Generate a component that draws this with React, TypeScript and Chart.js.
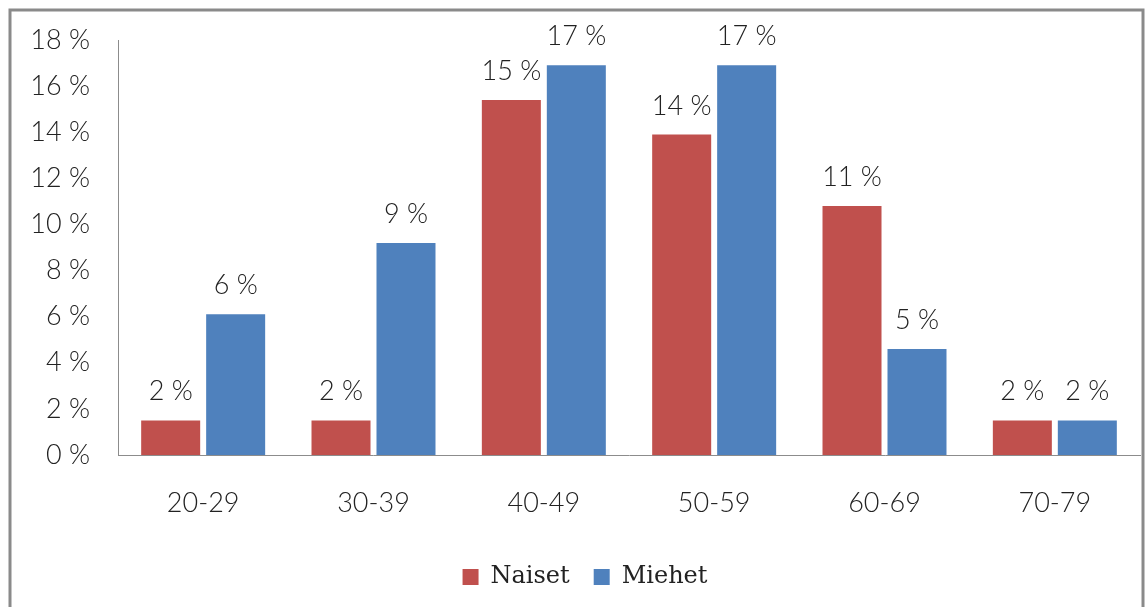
import React, { useEffect, useRef } from "react";
import { Chart, registerables } from "chart.js";

Chart.register(...registerables);

const categories = ["20-29", "30-39", "40-49", "50-59", "60-69", "70-79"];
const naiset = [1.5, 1.5, 15.4, 13.9, 10.8, 1.5];
const miehet = [6.1, 9.2, 16.9, 16.9, 4.6, 1.5];
const yTicks = [0, 2, 4, 6, 8, 10, 12, 14, 16, 18];

const RED = "#C0504D";
const BLUE = "#4F81BD";
const TEXT = "#222222";
const SANS = "Lato, 'Open Sans', sans-serif";
const SERIF = "'DejaVu Serif', 'Liberation Serif', serif";

const framePlugin = {
  id: "frame",
  afterDraw(chart: any) {
    const ctx = chart.ctx;
    ctx.save();
    ctx.strokeStyle = "#8a8a8a";
    ctx.lineWidth = 3;
    ctx.strokeRect(10, 10, 1133, 620);
    ctx.restore();
  },
};

const labelPlugin = {
  id: "barLabels",
  afterDatasetsDraw(chart: any) {
    const ctx = chart.ctx;
    ctx.save();
    ctx.font = `300 27px ${SANS}`;
    ctx.fillStyle = TEXT;
    ctx.textAlign = "center";
    ctx.textBaseline = "alphabetic";
    chart.data.datasets.forEach((ds: any, di: number) => {
      const meta = chart.getDatasetMeta(di);
      meta.data.forEach((bar: any, i: number) => {
        const v = ds.data[i];
        ctx.fillText(`${Math.round(v)} %`, bar.x, bar.y - 20);
      });
    });
    ctx.restore();
  },
};

export default function App() {
  const ref = useRef<HTMLCanvasElement>(null);
  useEffect(() => {
    if (!ref.current) return;
    const chart = new Chart(ref.current, {
      type: "bar",
      data: {
        labels: categories,
        datasets: [
          { label: "Naiset", data: naiset, backgroundColor: RED },
          { label: "Miehet", data: miehet, backgroundColor: BLUE },
        ],
      },
      options: {
        animation: false,
        responsive: false,
        maintainAspectRatio: false,
        layout: { padding: { left: 30, right: 8, top: 40, bottom: 8 } },
        datasets: {
          bar: { categoryPercentage: 0.763, barPercentage: 0.908 },
        } as any,
        plugins: {
          tooltip: { enabled: false },
          legend: {
            position: "bottom",
            labels: {
              boxWidth: 16,
              boxHeight: 16,
              padding: 24,
              color: TEXT,
              font: { family: SERIF, size: 24 },
            },
          },
        },
        scales: {
          x: {
            grid: { display: false, drawTicks: false },
            border: { display: true, color: "#8c8c8c", width: 1 },
            ticks: {
              color: TEXT,
              padding: 32,
              font: { family: SANS, size: 27, weight: 300 as any },
            },
            afterFit(scale: any) {
              scale.height = 86;
              scale.paddingLeft = 0;
              scale.paddingRight = 0;
            },
          },
          y: {
            min: 0,
            max: 18,
            afterBuildTicks(scale: any) {
              scale.ticks = yTicks.map((v) => ({ value: v }));
            },
            grid: { display: false, drawTicks: false },
            border: { display: true, color: "#8c8c8c", width: 1 },
            ticks: {
              color: TEXT,
              padding: 28,
              font: { family: SANS, size: 27, weight: 300 as any },
              callback: (v: any) => `${v} %`,
            },
            afterFit(scale: any) {
              scale.width = 88;
              scale.paddingTop = 0;
              scale.paddingBottom = 0;
            },
          },
        },
      },
      plugins: [labelPlugin, framePlugin],
    });
    return () => chart.destroy();
  }, []);
  return (
    <div style={{ position: "fixed", left: 0, top: 0, width: 1148, height: 607, background: "#fff" }}>
      <canvas ref={ref} width={1148} height={607} style={{ display: "block" }} />
    </div>
  );
}
